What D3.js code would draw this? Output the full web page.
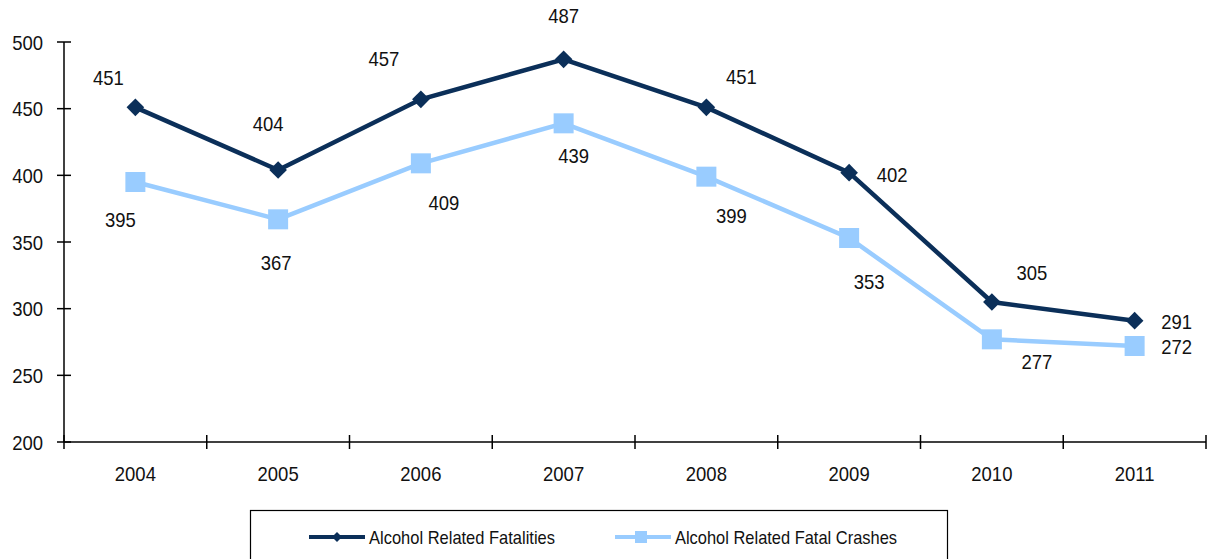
<!DOCTYPE html>
<html><head><meta charset="utf-8">
<script src="https://cdn.jsdelivr.net/npm/d3@7"></script>
<style>
body{margin:0;background:#fff;}
text{font-family:"Liberation Sans Narrow","Liberation Sans",Arial,sans-serif;fill:#111;}
</style></head><body>
<svg id="c" width="1210" height="559"></svg>
<script>
const years = ["2004","2005","2006","2007","2008","2009","2010","2011"];
const fatalities = [451,404,457,487,451,402,305,291];
const crashes = [395,367,409,439,399,353,277,272];
const yTicks = [200,250,300,350,400,450,500];
const seriesNames = ["Alcohol Related Fatalities","Alcohol Related Fatal Crashes"];
// label offsets (style)
const fatOff = [[-27,-30],[-10,-47],[-37,-41],[0,-44],[35,-31],[43,2],[40,-30],[42,1]];
const crOff  = [[-15,37],[-2,43],[23,39],[10,32],[25,39],[20,43],[45,22],[42,0]];

(function(){
const svg = d3.select("#c");
const pl=64, pr=1206, pt=42, pb=442;
const x = d3.scaleBand().domain(years).range([pl,pr]);
const y = d3.scaleLinear().domain([200,500]).range([pb,pt]);
const navy="#0b2f59", light="#99ccff";
const squeeze = (sel, f) => sel.each(function(){
  const w = this.getComputedTextLength();
  d3.select(this).attr("textLength", w*f).attr("lengthAdjust","spacingAndGlyphs");
});
const numText = (g, xx, yy, anchor, t) => {
  const el = g.append("text").attr("x",xx).attr("y",yy).attr("dy","0.36em")
    .attr("text-anchor",anchor).attr("font-size",21).text(t);
  squeeze(el, 0.88);
  return el;
};

const ax = svg.append("g");
ax.append("line").attr("x1",pl).attr("x2",pl).attr("y1",pt).attr("y2",pb).attr("stroke","#000").attr("stroke-width",1.5);
ax.append("line").attr("x1",pl).attr("x2",pr).attr("y1",pb).attr("y2",pb).attr("stroke","#000").attr("stroke-width",1.5);
yTicks.forEach(t=>{
  ax.append("line").attr("x1",pl-7).attr("x2",pl+7).attr("y1",y(t)).attr("y2",y(t)).attr("stroke","#000").attr("stroke-width",1.5);
  numText(ax, pl-21, y(t), "end", t);
});
const bounds = years.map(d=>x(d)).concat([pr]);
bounds.forEach(b=>{
  ax.append("line").attr("x1",b).attr("x2",b).attr("y1",pb-7).attr("y2",pb+7).attr("stroke","#000").attr("stroke-width",1.5);
});
years.forEach(d=>{
  numText(ax, x(d)+x.bandwidth()/2, pb+31, "middle", d);
});

const cx = d=>x(d)+x.bandwidth()/2;
const line = d3.line().x((v,i)=>cx(years[i])).y(v=>y(v));

svg.append("path").attr("d",line(crashes)).attr("fill","none").attr("stroke",light).attr("stroke-width",4.5);
svg.selectAll(".sq").data(crashes).enter().append("rect")
  .attr("x",(v,i)=>cx(years[i])-10).attr("y",v=>y(v)-10).attr("width",20).attr("height",20).attr("fill",light);
svg.append("path").attr("d",line(fatalities)).attr("fill","none").attr("stroke",navy).attr("stroke-width",4.5);
svg.selectAll(".dm").data(fatalities).enter().append("path")
  .attr("d",d3.symbol().type(d3.symbolSquare).size(155)).attr("fill",navy)
  .attr("transform",(v,i)=>`translate(${cx(years[i])},${y(v)}) rotate(45)`);

const lbl = svg.append("g");
fatalities.forEach((v,i)=> numText(lbl, cx(years[i])+fatOff[i][0], y(v)+fatOff[i][1], "middle", v));
crashes.forEach((v,i)=> numText(lbl, cx(years[i])+crOff[i][0], y(v)+crOff[i][1], "middle", v));

const lg = svg.append("g");
lg.append("rect").attr("x",250.5).attr("y",510.5).attr("width",697).attr("height",60).attr("fill","none").attr("stroke","#000").attr("stroke-width",1.2);
const items=[{name:seriesNames[0],c:navy,m:"d",x0:309,w:186},{name:seriesNames[1],c:light,m:"s",x0:615,w:222}];
items.forEach(it=>{
  lg.append("line").attr("x1",it.x0).attr("x2",it.x0+56).attr("y1",537).attr("y2",537).attr("stroke",it.c).attr("stroke-width",4);
  if(it.m==="d"){
    lg.append("path").attr("d",d3.symbol().type(d3.symbolSquare).size(50)).attr("fill",it.c)
      .attr("transform",`translate(${it.x0+28},537) rotate(45)`);
  } else {
    lg.append("rect").attr("x",it.x0+20).attr("y",531).attr("width",12).attr("height",12).attr("fill",it.c);
  }
  lg.append("text").attr("x",it.x0+60).attr("y",537).attr("dy","0.36em").attr("font-size",19)
    .attr("textLength",it.w).attr("lengthAdjust","spacingAndGlyphs").text(it.name);
});
})();
</script></body></html>
